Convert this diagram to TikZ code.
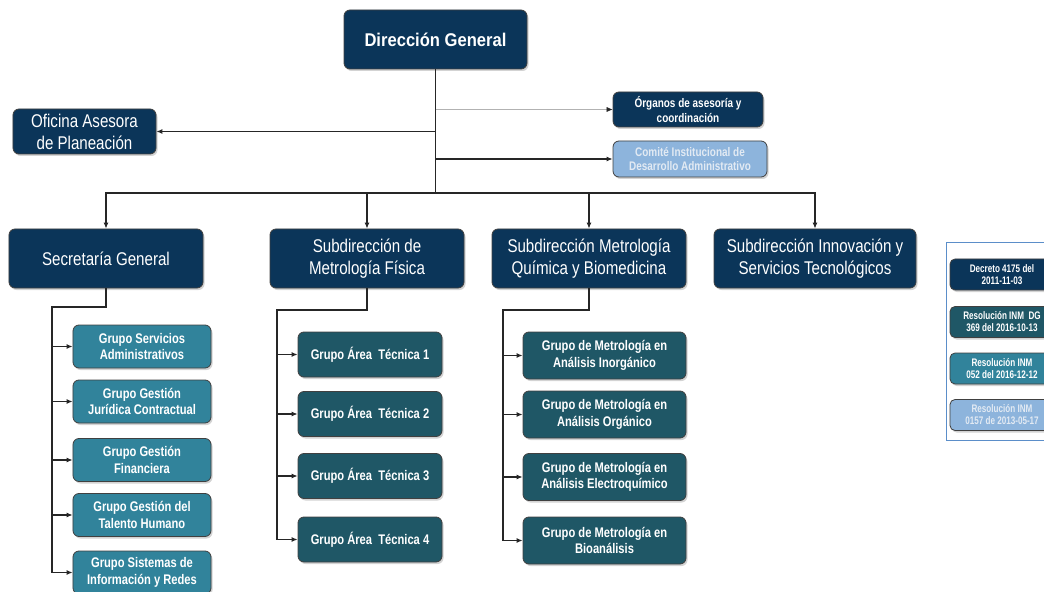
\documentclass[tikz,border=0pt]{standalone}
\usepackage{fontspec}
\setmainfont{Liberation Sans}
\newfontfamily\dgfont{Liberation Sans}[FakeStretch=0.90]
\newfontfamily\narrowfont{Liberation Sans}[FakeStretch=0.82]
\newfontfamily\grpfont{Liberation Sans}[FakeStretch=0.80]
\newfontfamily\legfont{Liberation Sans}[FakeStretch=0.74]
\usetikzlibrary{shadows,arrows.meta}

\definecolor{navy}{HTML}{0B3559}
\definecolor{tealdark}{HTML}{1F5766}
\definecolor{tealmid}{HTML}{31839B}
\definecolor{lightblue}{HTML}{8DB4DC}
\definecolor{paletext}{HTML}{E2EAF3}
\definecolor{legframe}{HTML}{5B8EC9}

\tikzset{
  box/.style={draw=black!75, line width=0.8pt, rounded corners=6bp, align=center,
    text=white, inner sep=0pt,
    drop shadow={shadow xshift=1.5bp, shadow yshift=-2bp, opacity=0.35}},
  headbox/.style={box, fill=navy, minimum width=194bp, minimum height=59bp,
    font=\narrowfont\fontsize{18.5}{22}\selectfont},
  grpbox/.style={box, minimum height=43bp,
    font=\grpfont\bfseries\fontsize{14}{16.5}\selectfont},
  smallbox/.style={box, minimum height=35bp,
    font=\grpfont\bfseries\fontsize{12.5}{15}\selectfont},
  legbox/.style={box, rounded corners=5bp, minimum width=104bp, minimum height=31bp,
    font=\legfont\bfseries\fontsize{11}{12}\selectfont},
  conn/.style={line width=1.1pt, draw=black!85},
  arr/.style={conn, -{Latex[length=6bp,width=5bp]}},
  thinarr/.style={line width=0.5pt, draw=gray!60, -{Latex[length=6bp,width=5bp,color=black!85]}}
}

\begin{document}
\begin{tikzpicture}[x=1bp,y=-1bp]
  \useasboundingbox (0,0) rectangle (1044,592);

  % direccion y asesores
  \node[headbox, minimum width=183bp, font=\dgfont\bfseries\fontsize{18.5}{22}\selectfont]
    (dg) at (435.5,39.5) {Dirección General};
  \node[headbox, minimum width=143bp, minimum height=45bp] (ofi) at (84.5,131.5)
    {Oficina Asesora\\de Planeación};
  \node[smallbox, fill=navy, minimum width=150bp] (org) at (688,109.5)
    {Órganos de asesoría y\\coordinación};
  \node[smallbox, fill=lightblue, text=paletext, minimum width=154bp, minimum height=36bp]
    (cid) at (690,159) {Comité Institucional de\\Desarrollo Administrativo};

  % subdirecciones
  \node[headbox] (sg)  at (106,258.5) {Secretaría General};
  \node[headbox] (smf) at (367,258.5) {Subdirección de\\Metrología Física};
  \node[headbox] (smq) at (589,258.5) {Subdirección Metrología\\Química y Biomedicina};
  \node[headbox, minimum width=202bp] (sit) at (815,258.5)
    {Subdirección Innovación y\\Servicios Tecnológicos};

  % grupos
  \foreach \y/\txt [count=\i] in {346.5/{Grupo Servicios\\Administrativos},
      401.5/{Grupo Gestión\\Jurídica Contractual}, 460/{Grupo Gestión\\Financiera},
      515/{Grupo Gestión del\\Talento Humano}, 572.5/{Grupo Sistemas de\\Información y Redes}}
    \node[grpbox, fill=tealmid, minimum width=138bp] (sg\i) at (142,\y) {\txt};

  \foreach \y [count=\i] in {354.5,414,476,539.5}
    \node[grpbox, fill=tealdark, minimum width=144bp, minimum height=45bp] (smf\i) at (370,\y)
      {Grupo Área \ Técnica \i};

  \foreach \y/\txt [count=\i] in {355.5/{Análisis Inorgánico}, 414.5/{Análisis Orgánico},
      477/{Análisis Electroquímico}, 540.5/{Bioanálisis}}
    \node[grpbox, fill=tealdark, minimum width=163bp, minimum height=47bp] (smq\i) at (604.5,\y)
      {Grupo de Metrología en\\\txt};

  % conectores
  \coordinate (bus) at (435.5,193);
  \draw[conn] (dg.south) -- (bus);
  \foreach \n in {sg,smf,smq,sit}
    \draw[arr] (bus) -| (\n.north);
  \draw[arr] (ofi.east -| dg.south) -- (ofi.east);
  \draw[thinarr] (org.west -| dg.south) -- (org.west);
  \draw[arr] (cid.west -| dg.south) -- (cid.west);

  \coordinate (sgk) at (52,307);
  \draw[conn] (sg.south) |- (sgk) -- (sgk |- sg5.west);
  \foreach \i in {1,...,5}
    \draw[arr] (sgk |- sg\i.west) -- (sg\i.west);

  \coordinate (smfk) at (277,310);
  \draw[conn] (smf.south) |- (smfk) -- (smfk |- smf4.west);
  \foreach \i in {1,...,4}
    \draw[arr] (smfk |- smf\i.west) -- (smf\i.west);

  \coordinate (smqk) at (503,310);
  \draw[conn] (smq.south) |- (smqk) -- (smqk |- smq4.west);
  \foreach \i in {1,...,4}
    \draw[arr] (smqk |- smq\i.west) -- (smq\i.west);

  % leyenda
  \draw[legframe, line width=0.8pt, fill=white] (946,242) rectangle (1070,440);
  \node[legbox, fill=navy] (ley1) at (1002,274.5) {Decreto 4175 del\\2011-11-03};
  \node[legbox, fill=tealdark] (ley2) at (1002,322) {Resolución INM \ DG\\369 del 2016-10-13};
  \node[legbox, fill=tealmid] (ley3) at (1002,368.5) {Resolución INM\\052 del 2016-12-12};
  \node[legbox, fill=lightblue, text=paletext] (ley4) at (1002,415)
    {Resolución INM\\0157 de 2013-05-17};
\end{tikzpicture}
\end{document}
